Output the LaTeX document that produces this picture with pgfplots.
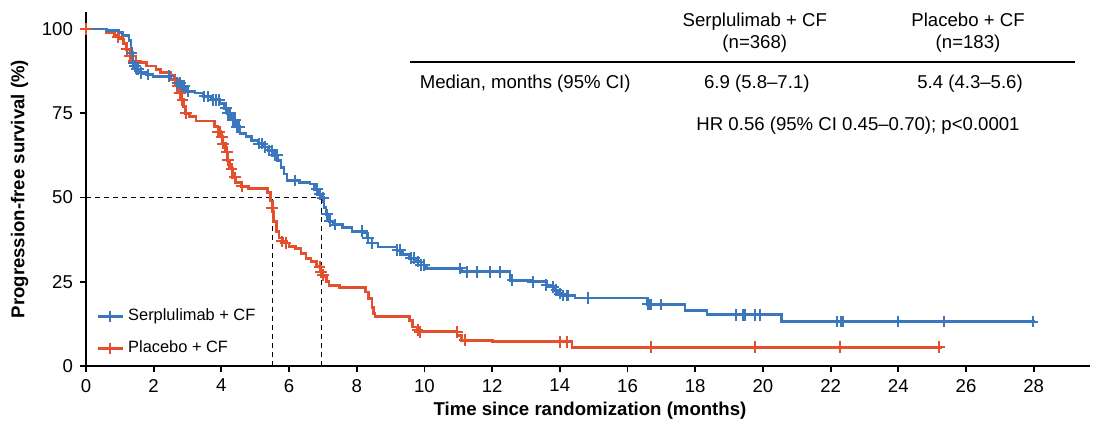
\documentclass[border=0pt]{standalone}
\usepackage{fontspec}
\setmainfont{Liberation Sans}
\usepackage{pgfplots}
\pgfplotsset{compat=1.18}
\definecolor{serblue}{HTML}{3B77BC}
\definecolor{plared}{HTML}{E4502D}

\begin{document}
\begin{tikzpicture}
\begin{axis}[
  scale only axis, width=502pt, height=177pt,
  xmin=0, xmax=29.66, ymin=0, ymax=105,
  axis lines=left, axis line style={-, line width=0.9pt},
  tick align=outside, major tick length=3pt,
  tick style={line width=0.9pt, black},
  xtick={0,2,...,28}, ytick={0,25,50,75,100},
  /pgf/number format/assume math mode=true,
  ticklabel style={font=\fontsize{9.3}{10}\selectfont},
  xlabel={Time since randomization (months)},
  ylabel={Progression-free survival (\%)},
  label style={font=\bfseries\fontsize{9.3}{11}\selectfont},
  xlabel style={at={(axis description cs:0.502,-0.126)}, anchor=center},
  ylabel style={at={(axis description cs:-0.066,0.5)}, anchor=center},
  clip=false,
  legend style={at={(axis description cs:0.004,0.185)}, anchor=north west,
    draw=none, fill=none, font=\fontsize{8.2}{10}\selectfont, row sep=4.5pt},
  legend cell align=left,
  legend image code/.code={\draw[mark repeat=2,mark phase=2,#1] plot coordinates {(0cm,0cm) (0.22cm,0cm) (0.44cm,0cm)};},
]
\addlegendimage{serblue, line width=1.4pt, mark=+, mark size=2.9pt, mark options={line width=1pt}}
\addlegendentry{Serplulimab + CF}
\addlegendimage{plared, line width=1.4pt, mark=+, mark size=2.9pt, mark options={line width=1pt}}
\addlegendentry{Placebo + CF}

% median guides
\addplot[black, line width=0.6pt, dash pattern=on 2.5pt off 2pt, forget plot] coordinates {(0,50) (6.95,50)};
\addplot[black, line width=0.6pt, dash pattern=on 2.5pt off 2pt, forget plot] coordinates {(5.5,0) (5.5,50)};
\addplot[black, line width=0.6pt, dash pattern=on 2.5pt off 2pt, forget plot] coordinates {(6.95,0) (6.95,50)};

% placebo + CF
\addplot[plared, line width=1.4pt, const plot, forget plot] coordinates {
(0,100) (0.6,99) (0.84,98) (0.97,97) (1.1,95.8) (1.2,94) (1.3,92) (1.38,90.5) (1.55,90) (1.78,89)
(2.07,88) (2.2,87) (2.5,86.3) (2.6,85) (2.7,83) (2.75,81) (2.82,79) (2.88,77) (2.95,75) (3.05,74)
(3.25,72.7) (3.8,71) (3.9,69.5) (3.98,68) (4.05,66) (4.12,63.5) (4.18,61) (4.25,58.5) (4.32,56)
(4.42,54.5) (4.6,53.3) (4.8,52.7) (5.37,51.5) (5.45,49) (5.5,46) (5.55,43) (5.62,40) (5.7,38)
(5.82,36.5) (6.0,35.5) (6.2,35) (6.35,33.5) (6.5,32) (6.65,31) (6.82,29.5) (6.93,28) (7.0,26.5)
(7.1,25) (7.18,23.8) (7.5,23.2) (8.25,22) (8.35,20) (8.45,17.5) (8.5,15.5) (8.54,14.6) (9.57,13.5)
(9.65,11.6) (9.78,10.7) (9.87,10.2) (10.96,9) (11.1,7.7) (12.0,7.2) (14.36,5.6) (25.3,5.6)};
\addplot[plared, only marks, mark=+, mark size=2.9pt, line width=1pt, forget plot] coordinates {
(0,100) (0.95,97.5) (1.2,94) (1.3,92) (1.4,90.5) (1.48,90.5) (2.62,85) (2.7,83) (2.78,81) (2.85,79)
(2.95,75) (3.9,69.5) (3.95,69.5) (4.02,68) (4.05,66) (4.16,63.5) (4.2,61) (4.3,58.5) (4.4,56)
(4.6,53.3) (5.5,47) (5.8,37) (5.9,36.5) (6.9,29.5) (6.95,28) (7.0,27) (9.8,10.7) (9.87,10.2)
(10.96,10.2) (11.2,7.7) (14.0,7.2) (14.2,7.2) (16.7,5.6) (19.76,5.6) (22.27,5.6) (25.2,5.6)};

% serplulimab + CF
\addplot[serblue, line width=1.4pt, const plot, forget plot] coordinates {
(0,100) (0.6,99.5) (0.97,99) (1.09,98) (1.27,96.5) (1.33,93) (1.39,90) (1.48,88) (1.6,87) (1.8,86.5)
(1.98,86) (2.51,85) (2.66,84) (2.81,83) (2.95,81.5) (3.22,81) (3.46,80) (3.72,79) (3.96,78)
(4.08,76.5) (4.19,75) (4.31,73) (4.43,71) (4.55,69) (4.73,68) (4.9,67) (5.08,66) (5.26,65)
(5.38,64) (5.52,62.5) (5.67,61) (5.76,59) (5.85,57) (5.94,55) (6.32,54.5) (6.62,54) (6.74,52.5)
(6.85,51) (6.97,50) (7.03,47) (7.09,45) (7.18,43) (7.3,42) (7.59,41) (7.86,40) (8.18,39.5)
(8.3,38) (8.45,36.5) (8.63,35.3) (9.19,34.4) (9.36,33) (9.57,32) (9.75,31) (9.9,30) (10.07,29)
(11.1,28) (12.53,25.5) (13.2,25) (13.6,24) (13.72,23.5) (13.85,22.5) (13.95,21.5) (14.06,21)
(14.45,20.2) (16.6,18.3) (17.7,16.6) (18.35,15.2) (20.55,13.2) (28.03,13.2)};
\addplot[serblue, only marks, mark=+, mark size=2.9pt, line width=1pt, forget plot] coordinates {
(1.35,93) (1.4,90) (1.45,89) (1.5,88) (1.55,88) (1.62,87) (1.83,86.5) (2.45,86) (2.7,84) (2.78,84)
(2.85,83) (2.9,83) (3.0,81.5) (3.5,80) (3.6,80) (3.75,79) (3.85,79) (3.93,79) (4.13,76.5) (4.2,75)
(4.25,75) (4.35,73) (4.4,73) (4.47,71) (4.52,71) (5.1,66) (5.2,66) (5.3,65) (5.42,64) (5.5,64)
(5.58,62.5) (5.65,62.5) (6.17,55) (6.82,52.5) (6.9,51) (7.0,50) (7.12,45) (7.2,43) (7.35,42)
(8.15,40) (8.33,38) (8.45,36.5) (9.2,34.4) (9.28,34.4) (9.6,32) (9.7,32) (9.8,31) (9.9,30) (10.0,30)
(11.05,29) (11.25,28) (11.55,28) (11.93,28) (12.23,28) (12.6,25.5) (13.2,25) (13.6,24) (13.8,23.5)
(13.9,22.5) (14.0,21.5) (14.1,21) (14.2,21) (14.25,21) (14.83,20.2) (16.6,18.3) (16.65,18.3)
(16.7,18.3) (17.0,18.3) (19.2,15.2) (19.4,15.2) (19.47,15.2) (19.76,15.2) (19.9,15.2) (22.2,13.2)
(22.3,13.2) (22.36,13.2) (24.0,13.2) (25.35,13.2) (27.97,13.2)};

% summary table
\node[align=center, font=\fontsize{9.3}{11}\selectfont] at (axis cs:19.76,99.0) {Serplulimab + CF\\(n=368)};
\node[align=center, font=\fontsize{9.3}{11}\selectfont] at (axis cs:26.06,99.0) {Placebo + CF\\(n=183)};
\draw[black, line width=0.7pt] (axis cs:9.57,90.2) -- (axis cs:29.22,90.2);
\node[anchor=west, inner sep=0pt, font=\fontsize{9.3}{11}\selectfont] at (axis cs:9.85,83.7) {Median, months (95\% CI)};
\node[font=\fontsize{9.3}{11}\selectfont] at (axis cs:19.82,83.7) {6.9 (5.8–7.1)};
\node[font=\fontsize{9.3}{11}\selectfont] at (axis cs:26.12,83.7) {5.4 (4.3–5.6)};
\node[font=\fontsize{9.3}{11}\selectfont] at (axis cs:22.81,71.2) {HR 0.56 (95\% CI 0.45–0.70); p<0.0001};

\path (axis cs:-2.54,108.6) rectangle (axis cs:29.87,-19);
\end{axis}
\end{tikzpicture}
\end{document}
